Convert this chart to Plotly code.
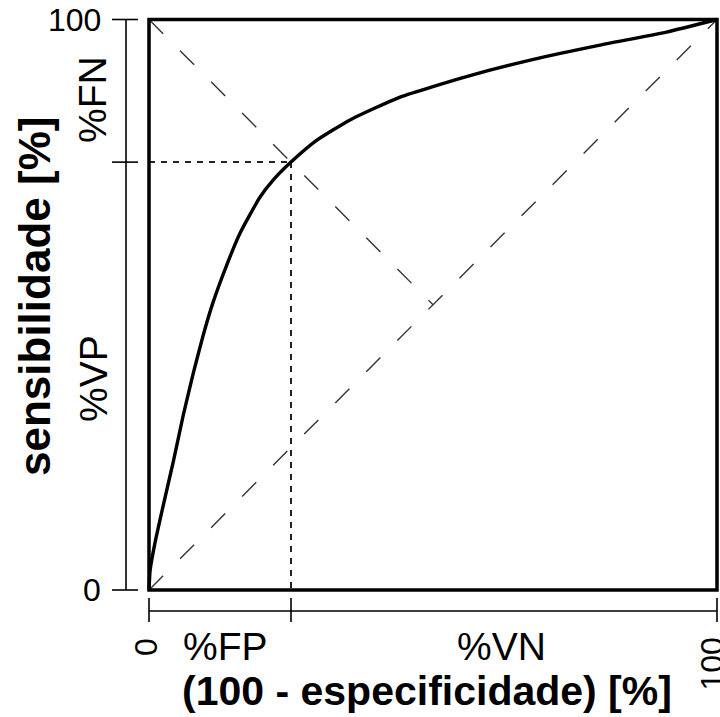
import plotly.graph_objects as go

# ROC curve (100 - especificidade, sensibilidade)
fpr = [0, 0.2, 1.0, 2.5, 4.3, 6.0, 7.8, 9.5, 11.2, 13.7, 16.0, 19.5, 22.0, 25.0,
       29.5, 35.4, 44.2, 55.9, 67.7, 79.4, 91.1, 100]
tpr = [0, 3.5, 8.0, 14.8, 22.6, 30.5, 38.0, 44.5, 50.2, 57.0, 62.5, 68.8, 72.0, 75.0,
       78.8, 82.4, 86.4, 90.0, 93.0, 95.5, 97.8, 100]

# reference point
cut_x = 25
cut_y = 75

x_ticks = [0, 25, 100]
x_tick_labels = ["0", "", "100"]
y_ticks = [0, 75, 100]
y_tick_labels = ["0", "", "100"]

W, H = 720, 717
# screen-pixel mapping of the data frame
X0PX, X100PX = 149, 717
Y0PX, Y100PX = 590, 19.5
sx = (X100PX - X0PX) / 100.0
sy = (Y0PX - Y100PX) / 100.0


def dx(px):
    return (px - X0PX) / sx


def dy(py):
    return (Y0PX - py) / sy


xr = [dx(0), dx(W)]
yr = [dy(H), dy(0)]

fig = go.Figure()

# main diagonal (dashed)
fig.add_trace(go.Scatter(x=[0, 100], y=[0, 100], mode="lines",
                         line=dict(color="#333333", width=1.4, dash="20px,24px"),
                         hoverinfo="skip"))
# anti-diagonal to the centre (dashed)
fig.add_trace(go.Scatter(x=[0, 50], y=[100, 50], mode="lines",
                         line=dict(color="#333333", width=1.4, dash="20px,24px"),
                         hoverinfo="skip"))
# dotted guides to the cut point
fig.add_trace(go.Scatter(x=[0, cut_x], y=[cut_y, cut_y], mode="lines",
                         line=dict(color="#222222", width=2, dash="6px,6px"),
                         hoverinfo="skip"))
fig.add_trace(go.Scatter(x=[cut_x, cut_x], y=[cut_y, 0], mode="lines",
                         line=dict(color="#222222", width=2, dash="6px,6px"),
                         hoverinfo="skip"))
# ROC curve
fig.add_trace(go.Scatter(x=fpr, y=tpr, mode="lines", line_shape="spline",
                         line=dict(color="black", width=3.4, smoothing=0.5),
                         hoverinfo="skip"))

shapes = []
# frame box
shapes.append(dict(type="rect", xref="x", yref="y", x0=0, x1=100, y0=0, y1=100,
                   line=dict(color="black", width=3.5)))
# outer y axis
yax_x = dx(126)
shapes.append(dict(type="line", xref="x", yref="y", x0=yax_x, x1=yax_x,
                   y0=min(y_ticks), y1=max(y_ticks), line=dict(color="black", width=1.6)))
for t in y_ticks:
    shapes.append(dict(type="line", xref="x", yref="y", x0=dx(112), x1=dx(138),
                       y0=t, y1=t, line=dict(color="black", width=1.6)))
# outer x axis
xax_y = dy(611)
shapes.append(dict(type="line", xref="x", yref="y", x0=min(x_ticks), x1=max(x_ticks),
                   y0=xax_y, y1=xax_y, line=dict(color="black", width=1.6)))
for t in x_ticks:
    shapes.append(dict(type="line", xref="x", yref="y", x0=t, x1=t,
                       y0=dy(598), y1=dy(622), line=dict(color="black", width=1.6)))

FONT = "Liberation Sans, Arial, sans-serif"
ann = []
for t, lab in zip(y_ticks, y_tick_labels):
    if lab:
        ann.append(dict(x=dx(103), y=t, xref="x", yref="y", text=lab, showarrow=False,
                        xanchor="right", yanchor="middle",
                        font=dict(family=FONT, size=32, color="black")))
for t, lab in zip(x_ticks, x_tick_labels):
    if lab:
        ann.append(dict(x=t, y=dy(636), xref="x", yref="y", text=lab, showarrow=False,
                        textangle=-90, xanchor="center", yanchor="top",
                        xshift=-6 if t == max(x_ticks) else -3,
                        font=dict(family=FONT, size=32, color="black")))

ann.append(dict(x=dx(225), y=dy(646), xref="x", yref="y", text="%FP", showarrow=False,
                xanchor="center", yanchor="middle", font=dict(family=FONT, size=39, color="black")))
ann.append(dict(x=dx(501), y=dy(646), xref="x", yref="y", text="%VN", showarrow=False,
                xanchor="center", yanchor="middle", font=dict(family=FONT, size=39, color="black")))
ann.append(dict(x=dx(427), y=dy(691), xref="x", yref="y", text="<b>(100 - especificidade) [%]</b>",
                showarrow=False, xanchor="center", yanchor="middle",
                font=dict(family=FONT, size=41, color="black")))
ann.append(dict(x=dx(92), y=dy(100), xref="x", yref="y", text="%FN", showarrow=False,
                textangle=-90, xanchor="center", yanchor="middle",
                font=dict(family=FONT, size=39, color="black")))
ann.append(dict(x=dx(93), y=dy(379), xref="x", yref="y", text="%VP", showarrow=False,
                textangle=-90, xanchor="center", yanchor="middle",
                font=dict(family=FONT, size=39, color="black")))
ann.append(dict(x=dx(34), y=dy(297), xref="x", yref="y", text="<b>sensibilidade [%]</b>",
                showarrow=False, textangle=-90, xanchor="center", yanchor="middle",
                font=dict(family=FONT, size=44, color="black")))

fig.update_layout(
    width=W, height=H, autosize=False,
    margin=dict(l=0, r=0, t=0, b=0, pad=0),
    paper_bgcolor="white", plot_bgcolor="white",
    showlegend=False,
    xaxis=dict(range=xr, visible=False, fixedrange=True),
    yaxis=dict(range=yr, visible=False, fixedrange=True),
    shapes=shapes, annotations=ann,
)

fig.write_html("out.html",
               config={"displayModeBar": False, "staticPlot": True},
               post_script="document.body.style.margin='0';document.body.style.overflow='hidden';")
